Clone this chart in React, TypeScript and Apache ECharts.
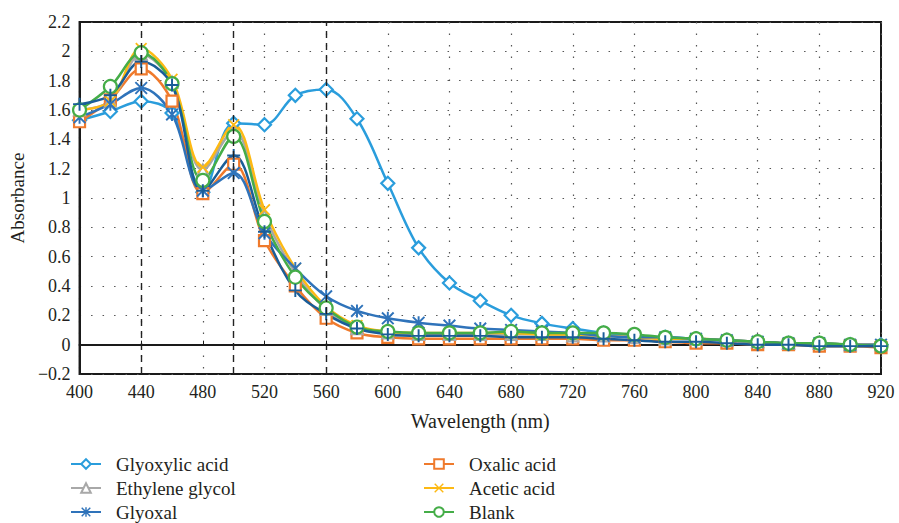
import React, { useEffect, useRef } from "react";
import * as echarts from "echarts";

const wavelengths = [400, 420, 440, 460, 480, 500, 520, 540, 560, 580, 600, 620, 640, 660, 680, 700, 720, 740, 760, 780, 800, 820, 840, 860, 880, 900, 920];

const glyoxylicAcid = [1.53, 1.59, 1.66, 1.58, 1.04, 1.51, 1.50, 1.70, 1.74, 1.54, 1.10, 0.66, 0.42, 0.30, 0.20, 0.145, 0.11, 0.08, 0.06, 0.05, 0.04, 0.03, 0.02, 0.01, 0.01, 0.0, 0.0];
const oxalicAcid = [1.52, 1.67, 1.88, 1.66, 1.03, 1.23, 0.71, 0.40, 0.18, 0.08, 0.05, 0.04, 0.04, 0.04, 0.04, 0.04, 0.04, 0.03, 0.03, 0.02, 0.01, 0.01, 0.0, 0.0, -0.01, -0.01, -0.02];
const ethyleneGlycol = [1.60, 1.66, 1.98, 1.79, 1.19, 1.46, 0.88, 0.49, 0.24, 0.11, 0.08, 0.07, 0.07, 0.07, 0.07, 0.07, 0.06, 0.06, 0.05, 0.04, 0.04, 0.03, 0.02, 0.01, 0.01, 0.0, 0.0];
const aceticAcid = [1.60, 1.66, 2.02, 1.81, 1.21, 1.50, 0.92, 0.52, 0.26, 0.13, 0.09, 0.08, 0.08, 0.08, 0.08, 0.07, 0.07, 0.06, 0.05, 0.04, 0.04, 0.03, 0.02, 0.01, 0.01, 0.0, 0.0];
const glyoxal = [1.55, 1.64, 1.75, 1.57, 1.05, 1.17, 0.76, 0.52, 0.33, 0.23, 0.18, 0.15, 0.13, 0.11, 0.10, 0.09, 0.08, 0.06, 0.05, 0.05, 0.04, 0.03, 0.02, 0.01, 0.01, 0.0, 0.0];
const blank = [1.60, 1.76, 1.99, 1.78, 1.12, 1.42, 0.84, 0.46, 0.25, 0.12, 0.09, 0.08, 0.08, 0.08, 0.09, 0.08, 0.08, 0.08, 0.07, 0.05, 0.04, 0.03, 0.02, 0.01, 0.01, 0.0, -0.01];
const glycolicAcid = [1.64, 1.70, 1.93, 1.77, 1.05, 1.29, 0.77, 0.37, 0.21, 0.11, 0.07, 0.06, 0.06, 0.06, 0.05, 0.05, 0.05, 0.04, 0.03, 0.02, 0.02, 0.01, 0.0, 0.0, -0.01, -0.01, -0.01];

const markerLines = [440, 500, 560];
const legendLeft = ["Glyoxylic acid", "Ethylene glycol", "Glyoxal"];
const legendRight = ["Oxalic acid", "Acetic acid", "Blank"];

const FONT = "Liberation Serif, serif";

const ASTERISK = "path://M8.5 0L11.5 0L11.5 20L8.5 20ZM0 2.1L2.1 0L20 17.9L17.9 20ZM17.9 0L20 2.1L2.1 20L0 17.9Z";
const CROSS_X = "path://M0 2.1L2.1 0L20 17.9L17.9 20ZM17.9 0L20 2.1L2.1 20L0 17.9Z";
const PLUS = "path://M8.5 0L11.5 0L11.5 20L8.5 20ZM0 8.5L20 8.5L20 11.5L0 11.5Z";

function pairs(vals: number[]) {
  return wavelengths.map((w, i) => [w, vals[i]]);
}

function hollow(name: string, vals: number[], color: string, symbol: string, size: number) {
  return {
    name,
    type: "line",
    data: pairs(vals),
    smooth: 0.35,
    symbol,
    symbolSize: size,
    showAllSymbol: true,
    lineStyle: { color, width: 2.5 },
    itemStyle: { color: "#ffffff", borderColor: color, borderWidth: 2.2 },
    emphasis: { disabled: true },
  };
}

function solid(name: string, vals: number[], color: string, symbol: string, size: number) {
  return {
    name,
    type: "line",
    data: pairs(vals),
    smooth: 0.35,
    symbol,
    symbolSize: size,
    showAllSymbol: true,
    lineStyle: { color, width: 2.5 },
    itemStyle: { color, borderWidth: 0 },
    emphasis: { disabled: true },
  };
}

export default function App() {
  const ref = useRef<HTMLDivElement>(null);
  useEffect(() => {
    if (!ref.current) return;
    const chart = echarts.init(ref.current, null, { renderer: "svg" });
    const series: any[] = [
      hollow("Glyoxylic acid", glyoxylicAcid, "#2a9ddc", "diamond", 13),
      hollow("Oxalic acid", oxalicAcid, "#ef7a2c", "rect", 11),
      hollow("Ethylene glycol", ethyleneGlycol, "#a8a8a8", "triangle", 11),
      solid("Acetic acid", aceticAcid, "#fdb913", CROSS_X, 12),
      solid("Glyoxal", glyoxal, "#2f73ba", ASTERISK, 13),
      hollow("Blank", blank, "#45ad48", "circle", 13),
      solid("Glycolic acid", glycolicAcid, "#1a5d98", PLUS, 13),
    ];
    series[0].markLine = {
      silent: true,
      symbol: "none",
      label: { show: false },
      lineStyle: { color: "#222", type: [7, 5], width: 1.4 },
      data: markerLines.map((v) => ({ xAxis: v })),
    };
    const legendItem = (name: string, left: number, top: number) => ({
      data: [name],
      left,
      top,
      itemWidth: 30,
      itemHeight: 12,
      selectedMode: false,
      textStyle: { fontFamily: FONT, fontSize: 19, lineHeight: 20, color: "#231f20", padding: [0, 0, 0, 10] },
    });
    const rowTops = [449, 473, 497];
    const legends = [
      ...legendLeft.map((n, i) => legendItem(n, 65, rowTops[i])),
      ...legendRight.map((n, i) => legendItem(n, 418, rowTops[i])),
    ];
    chart.setOption({
      animation: false,
      backgroundColor: "#ffffff",
      textStyle: { fontFamily: FONT },
      grid: {
        left: 72,
        right: 18,
        top: 22,
        bottom: 149,
        show: true,
        borderColor: "#1a1a1a",
        borderWidth: 2,
      },
      legend: legends,
      xAxis: {
        type: "value",
        min: 400,
        max: 920,
        interval: 40,
        name: "Wavelength (nm)",
        nameLocation: "middle",
        nameGap: 37,
        nameTextStyle: { fontFamily: FONT, fontSize: 20, color: "#231f20" },
        axisLine: { show: true, lineStyle: { color: "#1a1a1a", width: 2 } },
        axisTick: { show: true, inside: true, length: 4, lineStyle: { color: "#1a1a1a" } },
        axisLabel: { fontFamily: FONT, fontSize: 18, color: "#231f20", margin: 9 },
        splitLine: { show: true, lineStyle: { color: "#555", type: [1.5, 10], width: 1.2 } },
      },
      yAxis: {
        type: "value",
        min: -0.2,
        max: 2.2,
        interval: 0.2,
        name: "Absorbance",
        nameLocation: "middle",
        nameGap: 46,
        nameRotate: 90,
        nameTextStyle: { fontFamily: FONT, fontSize: 19, color: "#231f20" },
        axisLine: { show: true, lineStyle: { color: "#1a1a1a", width: 2 } },
        axisTick: { show: false },
        axisLabel: {
          fontFamily: FONT,
          fontSize: 18,
          color: "#231f20",
          margin: 9,
          formatter: (v: number) => {
            const r = Math.round(v * 10) / 10;
            return r < 0 ? "\u2212" + String(Math.abs(r)) : String(r);
          },
        },
        splitLine: { show: true, lineStyle: { color: "#555", type: [1.5, 10], width: 1.2 } },
      },
      series,
    });
    return () => chart.dispose();
  }, []);
  return (
    <div
      ref={ref}
      style={{ position: "fixed", left: 0, top: 0, width: 899, height: 523, background: "#fff" }}
    />
  );
}
